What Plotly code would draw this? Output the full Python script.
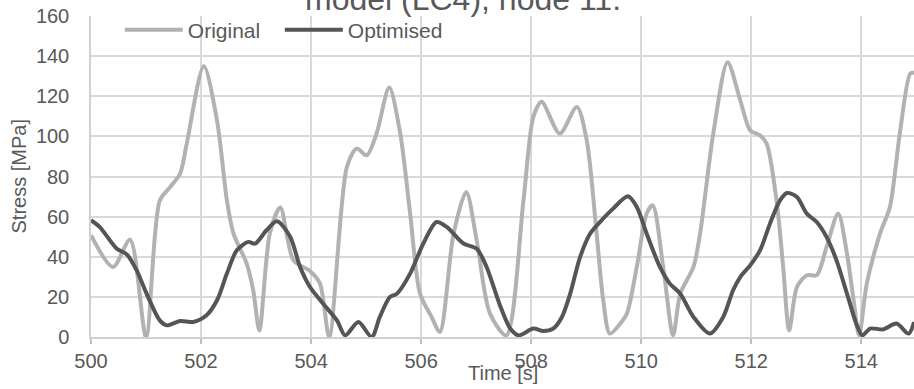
import plotly.graph_objects as go

# ---- data ----
orig_t = [500.00, 500.40, 500.71, 501.00, 501.25, 501.44, 501.62, 501.74, 502.05, 502.29,
          502.47, 502.59, 502.83, 502.95, 503.06, 503.25, 503.44, 503.68, 503.98, 504.16,
          504.33, 504.65, 504.83, 505.01, 505.19, 505.42, 505.62, 505.80, 505.98, 506.19,
          506.34, 506.59, 506.82, 507.01, 507.25, 507.55, 507.86, 508.04, 508.19, 508.52,
          508.83, 509.01, 509.19, 509.31, 509.43, 509.62, 509.74, 509.92, 510.10, 510.21,
          510.40, 510.58, 510.71, 510.95, 511.07, 511.31, 511.57, 511.80, 511.98, 512.16,
          512.28, 512.46, 512.58, 512.69, 512.83, 513.01, 513.19, 513.37, 513.58, 513.74,
          513.86, 513.96, 514.10, 514.34, 514.52, 514.70, 514.89, 514.96]
orig_v = [50.7, 34.9, 48.5, 0.0, 68.0, 74.8, 81.5, 96.4, 135.0, 108.0,
          68.0, 51.5, 36.6, 23.0, 3.3, 51.6, 64.5, 38.2, 32.9, 26.7,
          0.0, 84.7, 93.9, 90.6, 101.4, 124.3, 101.5, 61.6, 21.6, 10.0,
          2.5, 51.5, 72.3, 48.2, 11.8, 0.8, 68.0, 109.7, 117.2, 101.4,
          114.7, 98.0, 51.5, 18.3, 1.7, 6.7, 11.7, 34.9, 61.6, 65.6,
          34.9, 0.8, 21.6, 34.9, 51.5, 101.4, 137.0, 118.0, 103.0, 100.5,
          96.4, 68.0, 34.9, 3.3, 24.9, 30.8, 30.8, 44.9, 61.5, 41.6,
          18.3, 0.8, 26.6, 51.5, 64.8, 101.4, 131.3, 131.7]

opt_t = [500.00, 500.16, 500.47, 500.65, 500.83, 501.01, 501.25, 501.38, 501.62, 501.86,
         502.10, 502.29, 502.47, 502.65, 502.86, 502.98, 503.19, 503.38, 503.62, 503.80,
         503.98, 504.22, 504.47, 504.62, 504.86, 505.10, 505.25, 505.43, 505.56, 505.80,
         506.04, 506.28, 506.47, 506.77, 507.01, 507.19, 507.43, 507.62, 507.77, 508.04,
         508.22, 508.40, 508.56, 508.71, 508.89, 509.07, 509.25, 509.49, 509.76, 509.92,
         510.10, 510.34, 510.52, 510.71, 510.95, 511.25, 511.49, 511.67, 511.80, 511.98,
         512.16, 512.34, 512.52, 512.65, 512.83, 513.01, 513.19, 513.37, 513.55, 513.74,
         513.92, 514.02, 514.16, 514.40, 514.64, 514.86, 514.96]
opt_v = [58.2, 54.8, 44.0, 41.2, 33.2, 21.6, 8.3, 5.8, 8.0, 7.5,
         10.8, 18.3, 31.6, 43.2, 47.4, 46.5, 53.2, 57.7, 50.0, 34.9,
         24.9, 16.6, 8.3, 0.8, 7.5, 0.0, 10.0, 19.9, 21.6, 31.6,
         46.6, 57.3, 54.8, 46.6, 44.0, 34.9, 16.0, 4.2, 0.8, 4.2,
         3.0, 4.2, 10.0, 21.6, 39.9, 51.5, 57.3, 64.0, 70.1, 64.8,
         51.5, 34.9, 26.6, 21.6, 10.0, 1.7, 10.0, 23.3, 29.9, 35.7,
         43.2, 56.5, 68.0, 71.8, 69.8, 61.5, 57.3, 49.8, 38.2, 21.6,
         5.8, 0.8, 4.2, 3.8, 6.7, 1.7, 7.5]

x_ticks = [500, 502, 504, 506, 508, 510, 512, 514]
y_ticks = [0, 20, 40, 60, 80, 100, 120, 140, 160]
series_names = ["Original", "Optimised"]
title_text = "model (LC4), node 11."
x_title = "Time [s]"
y_title = "Stress [MPa]"

TXT = "#595959"
FONT = "Liberation Sans, Arial, sans-serif"

fig = go.Figure()
fig.add_trace(go.Scatter(x=orig_t, y=orig_v, mode="lines", name=series_names[0],
                         legendwidth=87,
                         line=dict(color="#b2b2b2", width=4, shape="spline", smoothing=0.8)))
fig.add_trace(go.Scatter(x=opt_t, y=opt_v, mode="lines", name=series_names[1],
                         legendwidth=110,
                         line=dict(color="#555555", width=4, shape="spline", smoothing=0.8)))

W, H = 914, 389
L, R, T, B = 91, 0, 16, 52
px_per_s = 55.02
x_max = 500 + (W - L - R) / px_per_s

fig.update_layout(
    width=W, height=H,
    margin=dict(l=L, r=R, t=T, b=B),
    paper_bgcolor="white", plot_bgcolor="white",
    font=dict(family=FONT, size=20, color=TXT),
    showlegend=True,
    legend=dict(orientation="h", x=0.035, y=1.02, xanchor="left", yanchor="top",
                bgcolor="rgba(0,0,0,0)", font=dict(size=21, color=TXT),
                itemwidth=58, tracegroupgap=0),
    xaxis=dict(range=[500, x_max], tickvals=x_ticks, ticktext=[str(v) for v in x_ticks],
               showgrid=True, gridcolor="#d9d9d9", gridwidth=1.5,
               showline=True, linecolor="#d0d0d0", linewidth=1.5,
               ticks="outside", ticklen=5, tickcolor="#bfbfbf", tickwidth=1.5,
               zeroline=False, tickfont=dict(size=20, color=TXT)),
    yaxis=dict(range=[0, 160], tickvals=y_ticks, ticktext=[str(v) for v in y_ticks],
               showgrid=True, gridcolor="#d9d9d9", gridwidth=1.5,
               showline=True, linecolor="#d0d0d0", linewidth=1.5,
               ticks="", ticklabelstandoff=16,
               zeroline=False, tickfont=dict(size=20, color=TXT)),
    annotations=[
        dict(text=title_text, xref="paper", yref="paper", x=0.452, y=1.0,
             xanchor="center", yanchor="bottom", yshift=-3, showarrow=False,
             font=dict(size=32, color=TXT, family=FONT)),
        dict(text=x_title, xref="paper", yref="paper", x=0.5, y=0,
             xanchor="center", yanchor="middle", yshift=-36, showarrow=False,
             font=dict(size=20, color=TXT, family=FONT)),
        dict(text=y_title, xref="paper", yref="paper", x=0, y=0.5,
             xanchor="center", yanchor="middle", xshift=-73, textangle=-90, showarrow=False,
             font=dict(size=20, color=TXT, family=FONT)),
    ],
)

fig.write_html("out.html", config={"displayModeBar": False},
               post_script="document.body.style.margin='0';document.body.style.overflow='hidden';")
